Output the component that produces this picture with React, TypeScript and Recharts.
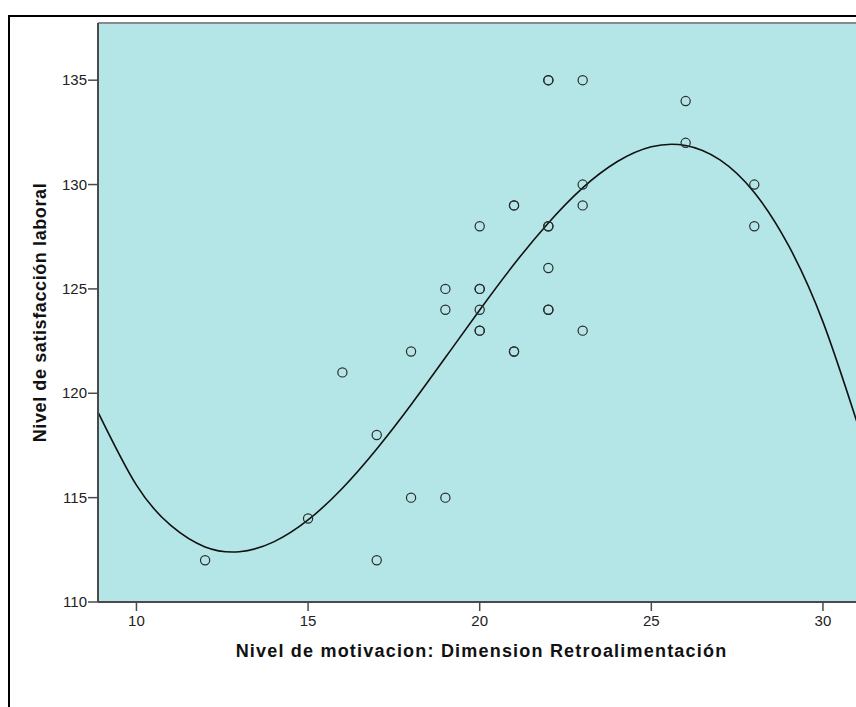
import { ComposedChart, XAxis, YAxis, Scatter, Line, CartesianGrid, ReferenceLine } from 'recharts'

const motivacion = [12, 15, 16, 17, 17, 18, 18, 19, 19, 19, 20, 20, 20, 20, 20, 20, 21, 21, 21, 21, 22, 22, 22, 22, 22, 22, 22, 23, 23, 23, 23, 26, 26, 28, 28]
const satisfaccion = [112, 114, 121, 118, 112, 122, 115, 125, 124, 115, 128, 125, 125, 124, 123, 123, 129, 129, 122, 122, 135, 135, 128, 128, 126, 124, 124, 135, 130, 129, 123, 134, 132, 130, 128]

// curve (cubic fit line)
const curveX = [8.88, 10, 11, 12, 13, 14, 15, 16, 17, 18, 19, 20, 21, 22, 23, 24, 25, 26, 27, 28, 29, 30, 31]
const curveY = [119.1, 115.6, 113.67, 112.64, 112.41, 112.88, 113.93, 115.45, 117.33, 119.45, 121.71, 123.99, 126.18, 128.16, 129.84, 131.09, 131.81, 131.87, 131.18, 129.62, 127.07, 123.42, 118.57]

const xTicks = [10, 15, 20, 25, 30]
const yTicks = [110, 115, 120, 125, 130, 135]

const points = motivacion.map((x, i) => ({ x, y: satisfaccion[i] }))
const curve = curveX.map((x, i) => ({ x, y: curveY[i] }))

const FONT = '"Liberation Sans", Arial, sans-serif'
const Y_TOP = 137.74

function Ring(props: any) {
  const { cx, cy } = props
  if (cx == null || cy == null) return null
  return <circle cx={cx} cy={cy} r={4.6} fill="none" stroke="#2b2b2b" strokeWidth={1.2} />
}

function XTick({ x, y, payload }: any) {
  return (
    <text x={x} y={y + 13} textAnchor="middle" fontFamily={FONT} fontSize={15} fill="#222">
      {payload.value}
    </text>
  )
}

function YTick({ x, y, payload }: any) {
  return (
    <text x={x} y={y + 5} textAnchor="end" fontFamily={FONT} fontSize={15} fill="#222">
      {payload.value}
    </text>
  )
}

function YTitle({ viewBox }: any) {
  const cx = 31.5
  const cy = viewBox.y + viewBox.height / 2
  return (
    <text x={cx} y={cy} transform={`rotate(-90 ${cx} ${cy})`} textAnchor="middle" dominantBaseline="central"
      fontFamily={FONT} fontWeight="bold" fontSize={18} letterSpacing={0.6} fill="#111">
      Nivel de satisfacción laboral
    </text>
  )
}

function XTitle({ viewBox }: any) {
  const cx = viewBox.x + viewBox.width / 2 + 3
  const cy = viewBox.y + 49
  return (
    <text x={cx} y={cy} textAnchor="middle" dominantBaseline="central"
      fontFamily={FONT} fontWeight="bold" fontSize={18} letterSpacing={1.2} fill="#111">
      Nivel de motivacion: Dimension Retroalimentación
    </text>
  )
}

export default function App() {
  return (
    <div style={{ position: 'relative', width: 856, height: 707, overflow: 'hidden', background: '#fff' }}>
      <style>{'html,body{margin:0;padding:0;overflow:hidden}'}</style>
      <div style={{ position: 'absolute', left: 8, top: 15, width: 900, height: 800, borderLeft: '2px solid #000', borderTop: '2px solid #000' }} />
      <div style={{ position: 'absolute', left: 8, top: 8 }}>
        <ComposedChart width={860} height={699} margin={{ top: 15, right: 9, bottom: 45, left: 0 }}>
          <CartesianGrid horizontal={false} vertical={false} fill="#b4e6e7" />
          <XAxis type="number" dataKey="x" domain={[8.88, 31.05]} ticks={xTicks} allowDataOverflow
            height={60} tickSize={9} tickMargin={2}
            axisLine={{ stroke: '#4a4a4a', strokeWidth: 2 }} tickLine={{ stroke: '#4a4a4a', strokeWidth: 1.5 }}
            tick={<XTick />}
            label={{ content: XTitle }} />
          <YAxis type="number" dataKey="y" domain={[110, Y_TOP]} ticks={yTicks} allowDataOverflow
            width={90} tickSize={10} tickMargin={1}
            axisLine={{ stroke: '#4a4a4a', strokeWidth: 2 }} tickLine={{ stroke: '#4a4a4a', strokeWidth: 1.5 }}
            tick={<YTick />}
            label={{ content: YTitle }} />
          <ReferenceLine y={Y_TOP} stroke="#8a8a8a" strokeWidth={2} ifOverflow="extendDomain" />
          <Line data={curve} dataKey="y" type="natural" stroke="#111" strokeWidth={1.6} dot={false}
            activeDot={false} isAnimationActive={false} />
          <Scatter data={points} dataKey="y" shape={Ring} isAnimationActive={false} />
        </ComposedChart>
      </div>
    </div>
  )
}
